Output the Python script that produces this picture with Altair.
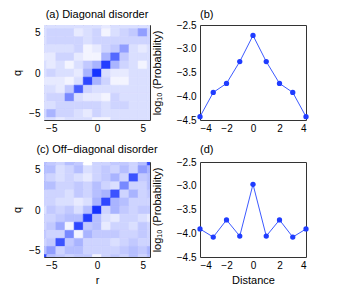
import altair as alt
import pandas as pd

# grid coordinates (r along x, q along y)
coords = list(range(-6, 7))

# (a) Diagonal disorder: rows q = 6 ... -6, columns r = -6 ... 6 (relative intensity 0..1)
diag_rows = [
    [0.15, 0.15, 0.15, 0.15, 0.15, 0.15, 0.15, 0.10, 0.15, 0.15, 0.15, 0.15, 0.15],
    [0.15, 0.20, 0.20, 0.20, 0.10, 0.15, 0.20, 0.05, 0.15, 0.20, 0.25, 0.45, 0.20],
    [0.15, 0.20, 0.20, 0.20, 0.20, 0.15, 0.20, 0.20, 0.20, 0.20, 0.20, 0.20, 0.20],
    [0.15, 0.15, 0.15, 0.15, 0.20, 0.05, 0.10, 0.20, 0.25, 0.45, 0.15, 0.10, 0.15],
    [0.10, 0.10, 0.20, 0.20, 0.10, 0.05, 0.05, 0.35, 0.70, 0.25, 0.15, 0.15, 0.15],
    [0.15, 0.10, 0.15, 0.05, 0.15, 0.25, 0.35, 0.90, 0.35, 0.20, 0.15, 0.05, 0.15],
    [0.15, 0.20, 0.15, 0.15, 0.10, 0.35, 0.95, 0.15, 0.10, 0.10, 0.15, 0.15, 0.15],
    [0.10, 0.10, 0.10, 0.05, 0.15, 0.85, 0.35, 0.20, 0.05, 0.05, 0.15, 0.15, 0.15],
    [0.15, 0.15, 0.10, 0.25, 0.75, 0.20, 0.15, 0.15, 0.15, 0.15, 0.15, 0.15, 0.15],
    [0.15, 0.20, 0.20, 0.55, 0.15, 0.10, 0.10, 0.05, 0.20, 0.15, 0.15, 0.15, 0.15],
    [0.15, 0.15, 0.20, 0.20, 0.20, 0.20, 0.20, 0.15, 0.20, 0.20, 0.15, 0.15, 0.15],
    [0.20, 0.35, 0.20, 0.20, 0.15, 0.10, 0.20, 0.15, 0.15, 0.15, 0.15, 0.15, 0.15],
    [0.15, 0.15, 0.10, 0.15, 0.15, 0.15, 0.05, 0.05, 0.15, 0.15, 0.15, 0.15, 0.15],
]

# (c) Off-diagonal disorder
offdiag_rows = [
    [0.30, 0.25, 0.20, 0.30, 0.25, 0.00, 0.20, 0.20, 0.25, 0.25, 0.20, 0.30, 0.85],
    [0.30, 0.30, 0.15, 0.20, 0.30, 0.15, 0.20, 0.25, 0.20, 0.30, 0.20, 0.45, 0.35],
    [0.25, 0.20, 0.15, 0.20, 0.15, 0.10, 0.20, 0.25, 0.35, 0.20, 0.80, 0.25, 0.30],
    [0.30, 0.30, 0.20, 0.20, 0.25, 0.20, 0.30, 0.20, 0.15, 0.55, 0.20, 0.20, 0.30],
    [0.20, 0.20, 0.20, 0.15, 0.25, 0.20, 0.30, 0.35, 0.80, 0.20, 0.35, 0.20, 0.25],
    [0.20, 0.20, 0.15, 0.15, 0.10, 0.15, 0.35, 0.85, 0.35, 0.30, 0.20, 0.20, 0.20],
    [0.15, 0.25, 0.20, 0.25, 0.15, 0.30, 0.95, 0.20, 0.35, 0.25, 0.20, 0.25, 0.25],
    [0.20, 0.20, 0.25, 0.30, 0.30, 0.90, 0.30, 0.15, 0.10, 0.20, 0.20, 0.15, 0.10],
    [0.20, 0.25, 0.40, 0.05, 0.85, 0.25, 0.30, 0.10, 0.20, 0.20, 0.15, 0.25, 0.20],
    [0.25, 0.20, 0.20, 0.55, 0.05, 0.35, 0.25, 0.25, 0.25, 0.20, 0.20, 0.25, 0.20],
    [0.20, 0.25, 0.80, 0.25, 0.35, 0.20, 0.20, 0.20, 0.15, 0.20, 0.25, 0.20, 0.20],
    [0.30, 0.45, 0.20, 0.30, 0.30, 0.20, 0.20, 0.20, 0.20, 0.25, 0.30, 0.25, 0.35],
    [0.85, 0.30, 0.25, 0.20, 0.25, 0.25, 0.05, 0.20, 0.25, 0.20, 0.30, 0.20, 0.30],
]

distance = [-4, -3, -2, -1, 0, 1, 2, 3, 4]
logp_diag = [-4.43, -3.92, -3.73, -3.27, -2.72, -3.27, -3.73, -3.92, -4.43]
logp_offdiag = [-3.91, -4.08, -3.72, -4.06, -2.97, -4.06, -3.72, -4.08, -3.91]

FONT = "Liberation Sans"
BLUE = "#1f3cff"
W, H = 106, 95


def heat_df(rows):
    recs = []
    for i, row in enumerate(rows):
        q = 6 - i
        for j, v in enumerate(row):
            r = coords[j]
            recs.append(dict(r0=r - 0.5, r1=r + 0.5, q0=q - 0.5, q1=q + 0.5, v=v))
    return pd.DataFrame(recs)


cscale = alt.Scale(domain=[0, 1], range=["#ffffff", "#0a28ff"], interpolate="rgb")


def ttl(text, anchor, offset):
    return alt.TitleParams(text, anchor=anchor, frame="group", fontSize=11, font=FONT,
                           fontWeight="normal", offset=offset)


def heat(rows, title, xtitle, offset):
    xaxis = alt.Axis(values=[-5, 0, 5], title=xtitle) if xtitle else alt.Axis(values=[-5, 0, 5], title=None)
    return (
        alt.Chart(heat_df(rows), title=ttl(title, "middle", offset))
        .mark_rect(clip=True, strokeWidth=0.6)
        .encode(
            x=alt.X("r0:Q", scale=alt.Scale(domain=[-5.8, 5.8], nice=False, zero=False), axis=xaxis),
            x2="r1:Q",
            y=alt.Y("q0:Q", scale=alt.Scale(domain=[-5.8, 5.95], nice=False, zero=False),
                    axis=alt.Axis(values=[-5, 0, 5], title="q", labelPadding=4, titlePadding=6)),
            y2="q1:Q",
            color=alt.Color("v:Q", scale=cscale, legend=None),
            stroke=alt.Stroke("v:Q", scale=cscale, legend=None),
        )
        .properties(width=W, height=H)
    )


def line(vals, title, xtitle, offset):
    df = pd.DataFrame(dict(d=distance, p=vals))
    xaxis = alt.Axis(values=[-4, -2, 0, 2, 4], title=xtitle) if xtitle else alt.Axis(values=[-4, -2, 0, 2, 4], title=None)
    base = alt.Chart(df, title=ttl(title, "start", offset))
    enc = dict(
        x=alt.X("d:Q", scale=alt.Scale(domain=[-4, 4], nice=False, zero=False), axis=xaxis),
        y=alt.Y("p:Q", scale=alt.Scale(domain=[-4.5, -2.5], nice=False, zero=False),
                axis=alt.Axis(values=[-4.5, -4, -3.5, -3, -2.5], title="log\u2081\u2080 (Probability)",
                              labelPadding=4, titlePadding=14)),
    )
    l = base.mark_line(color="#3d5aff", strokeWidth=1).encode(**enc)
    p = base.mark_circle(color=BLUE, size=28, opacity=1).encode(**enc)
    return (l + p).properties(width=W, height=H)


a = heat(diag_rows, "(a) Diagonal disorder", None, 5)
b = line(logp_diag, "(b)", None, 0)
c = heat(offdiag_rows, "(c) Off\u2212diagonal disorder", "r", 7)
d = line(logp_offdiag, "(d)", "Distance", 2)

chart = (
    alt.concat(
        a, b, c, d, columns=2,
        spacing={"row": 42, "column": 50}, bounds="flush",
        padding={"left": 3, "top": 0, "right": 0, "bottom": 0},
    )
    .configure_view(stroke="#333333", strokeWidth=1)
    .configure_axis(
        grid=False, domain=False, ticks=False, labelPadding=3,
        labelFont=FONT, labelFontSize=10, labelColor="#000",
        titleFont=FONT, titleFontSize=11, titleFontWeight="normal", titleColor="#000",
        titlePadding=4,
    )
)

chart.save("out.html", embed_options={"renderer": "svg", "actions": False})
